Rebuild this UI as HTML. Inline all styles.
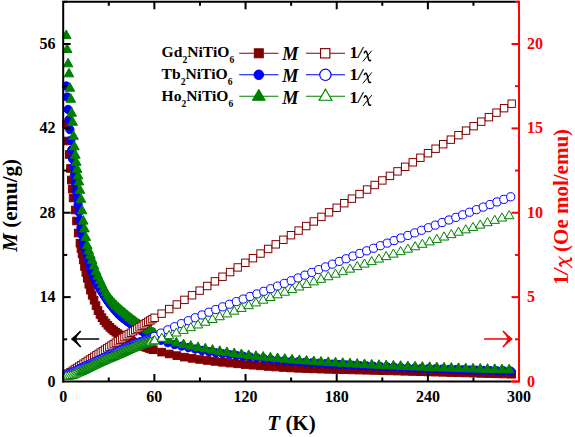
<!DOCTYPE html>
<html><head><meta charset="utf-8"><style>
html,body{margin:0;padding:0;background:#fff;}
body{width:575px;height:437px;overflow:hidden;font-family:"Liberation Serif",serif;}
svg{display:block;}
</style></head><body>
<svg width="575" height="437" viewBox="0 0 575 437">
<rect width="575" height="437" fill="#fff"/>
<defs><clipPath id="pc"><rect x="62.2" y="0.8" width="457.8" height="381.7"/></clipPath></defs>
<g clip-path="url(#pc)"><rect x="62.44" y="120.2" width="7.6" height="7.6" fill="#800000" stroke="#800000" stroke-width="1"/><rect x="63.7" y="137.2" width="7.6" height="7.6" fill="#800000" stroke="#800000" stroke-width="1"/><rect x="65.5" y="150.7" width="7.6" height="7.6" fill="#800000" stroke="#800000" stroke-width="1"/><rect x="66.7" y="164.7" width="7.6" height="7.6" fill="#800000" stroke="#800000" stroke-width="1"/><rect x="67.5" y="176.2" width="7.6" height="7.6" fill="#800000" stroke="#800000" stroke-width="1"/><rect x="68.4" y="185.2" width="7.6" height="7.6" fill="#800000" stroke="#800000" stroke-width="1"/><rect x="69.3" y="194.2" width="7.6" height="7.6" fill="#800000" stroke="#800000" stroke-width="1"/><rect x="71.4" y="206.2" width="7.6" height="7.6" fill="#800000" stroke="#800000" stroke-width="1"/><rect x="72.7" y="217.2" width="7.6" height="7.6" fill="#800000" stroke="#800000" stroke-width="1"/><rect x="74.4" y="229.2" width="7.6" height="7.6" fill="#800000" stroke="#800000" stroke-width="1"/><rect x="76.16" y="239.36" width="7.6" height="7.6" fill="#800000" stroke="#800000" stroke-width="1"/><rect x="77.18" y="244.68" width="7.6" height="7.6" fill="#800000" stroke="#800000" stroke-width="1"/><rect x="78.27" y="250.04" width="7.6" height="7.6" fill="#800000" stroke="#800000" stroke-width="1"/><rect x="79.44" y="256.13" width="7.6" height="7.6" fill="#800000" stroke="#800000" stroke-width="1"/><rect x="80.69" y="262.68" width="7.6" height="7.6" fill="#800000" stroke="#800000" stroke-width="1"/><rect x="82.03" y="268.64" width="7.6" height="7.6" fill="#800000" stroke="#800000" stroke-width="1"/><rect x="83.46" y="274.45" width="7.6" height="7.6" fill="#800000" stroke="#800000" stroke-width="1"/><rect x="84.99" y="280.46" width="7.6" height="7.6" fill="#800000" stroke="#800000" stroke-width="1"/><rect x="86.63" y="286.34" width="7.6" height="7.6" fill="#800000" stroke="#800000" stroke-width="1"/><rect x="88.39" y="291.49" width="7.6" height="7.6" fill="#800000" stroke="#800000" stroke-width="1"/><rect x="90.26" y="296.38" width="7.6" height="7.6" fill="#800000" stroke="#800000" stroke-width="1"/><rect x="92.24" y="301.79" width="7.6" height="7.6" fill="#800000" stroke="#800000" stroke-width="1"/><rect x="94.21" y="306.79" width="7.6" height="7.6" fill="#800000" stroke="#800000" stroke-width="1"/><rect x="96.19" y="310.64" width="7.6" height="7.6" fill="#800000" stroke="#800000" stroke-width="1"/><rect x="98.17" y="313.9" width="7.6" height="7.6" fill="#800000" stroke="#800000" stroke-width="1"/><rect x="100.14" y="316.73" width="7.6" height="7.6" fill="#800000" stroke="#800000" stroke-width="1"/><rect x="102.12" y="319.24" width="7.6" height="7.6" fill="#800000" stroke="#800000" stroke-width="1"/><rect x="104.09" y="321.49" width="7.6" height="7.6" fill="#800000" stroke="#800000" stroke-width="1"/><rect x="106.07" y="323.51" width="7.6" height="7.6" fill="#800000" stroke="#800000" stroke-width="1"/><rect x="108.04" y="325.31" width="7.6" height="7.6" fill="#800000" stroke="#800000" stroke-width="1"/><rect x="110.02" y="326.94" width="7.6" height="7.6" fill="#800000" stroke="#800000" stroke-width="1"/><rect x="111.99" y="328.42" width="7.6" height="7.6" fill="#800000" stroke="#800000" stroke-width="1"/><rect x="113.97" y="329.78" width="7.6" height="7.6" fill="#800000" stroke="#800000" stroke-width="1"/><rect x="115.94" y="331.04" width="7.6" height="7.6" fill="#800000" stroke="#800000" stroke-width="1"/><rect x="117.92" y="332.2" width="7.6" height="7.6" fill="#800000" stroke="#800000" stroke-width="1"/><rect x="119.89" y="333.3" width="7.6" height="7.6" fill="#800000" stroke="#800000" stroke-width="1"/><rect x="121.87" y="334.36" width="7.6" height="7.6" fill="#800000" stroke="#800000" stroke-width="1"/><rect x="123.85" y="335.4" width="7.6" height="7.6" fill="#800000" stroke="#800000" stroke-width="1"/><rect x="125.82" y="336.41" width="7.6" height="7.6" fill="#800000" stroke="#800000" stroke-width="1"/><rect x="127.8" y="337.4" width="7.6" height="7.6" fill="#800000" stroke="#800000" stroke-width="1"/><rect x="129.77" y="338.36" width="7.6" height="7.6" fill="#800000" stroke="#800000" stroke-width="1"/><rect x="131.75" y="339.28" width="7.6" height="7.6" fill="#800000" stroke="#800000" stroke-width="1"/><rect x="133.72" y="340.16" width="7.6" height="7.6" fill="#800000" stroke="#800000" stroke-width="1"/><rect x="135.7" y="341" width="7.6" height="7.6" fill="#800000" stroke="#800000" stroke-width="1"/><rect x="137.67" y="341.78" width="7.6" height="7.6" fill="#800000" stroke="#800000" stroke-width="1"/><rect x="139.65" y="342.54" width="7.6" height="7.6" fill="#800000" stroke="#800000" stroke-width="1"/><rect x="141.62" y="343.28" width="7.6" height="7.6" fill="#800000" stroke="#800000" stroke-width="1"/><rect x="143.6" y="343.98" width="7.6" height="7.6" fill="#800000" stroke="#800000" stroke-width="1"/><rect x="145.57" y="344.67" width="7.6" height="7.6" fill="#800000" stroke="#800000" stroke-width="1"/><rect x="147.55" y="345.32" width="7.6" height="7.6" fill="#800000" stroke="#800000" stroke-width="1"/><rect x="149.52" y="345.95" width="7.6" height="7.6" fill="#800000" stroke="#800000" stroke-width="1"/><rect x="157.8" y="348.32" width="7.6" height="7.6" fill="#800000" stroke="#800000" stroke-width="1"/><rect x="165.41" y="350.16" width="7.6" height="7.6" fill="#800000" stroke="#800000" stroke-width="1"/><rect x="173.02" y="351.82" width="7.6" height="7.6" fill="#800000" stroke="#800000" stroke-width="1"/><rect x="180.63" y="353.33" width="7.6" height="7.6" fill="#800000" stroke="#800000" stroke-width="1"/><rect x="188.24" y="354.56" width="7.6" height="7.6" fill="#800000" stroke="#800000" stroke-width="1"/><rect x="195.85" y="355.66" width="7.6" height="7.6" fill="#800000" stroke="#800000" stroke-width="1"/><rect x="203.47" y="356.67" width="7.6" height="7.6" fill="#800000" stroke="#800000" stroke-width="1"/><rect x="211.08" y="357.62" width="7.6" height="7.6" fill="#800000" stroke="#800000" stroke-width="1"/><rect x="218.69" y="358.5" width="7.6" height="7.6" fill="#800000" stroke="#800000" stroke-width="1"/><rect x="226.3" y="359.31" width="7.6" height="7.6" fill="#800000" stroke="#800000" stroke-width="1"/><rect x="233.91" y="360.06" width="7.6" height="7.6" fill="#800000" stroke="#800000" stroke-width="1"/><rect x="241.52" y="360.77" width="7.6" height="7.6" fill="#800000" stroke="#800000" stroke-width="1"/><rect x="249.13" y="361.42" width="7.6" height="7.6" fill="#800000" stroke="#800000" stroke-width="1"/><rect x="256.74" y="362.06" width="7.6" height="7.6" fill="#800000" stroke="#800000" stroke-width="1"/><rect x="264.35" y="362.66" width="7.6" height="7.6" fill="#800000" stroke="#800000" stroke-width="1"/><rect x="271.96" y="363.22" width="7.6" height="7.6" fill="#800000" stroke="#800000" stroke-width="1"/><rect x="279.57" y="363.73" width="7.6" height="7.6" fill="#800000" stroke="#800000" stroke-width="1"/><rect x="287.18" y="364.17" width="7.6" height="7.6" fill="#800000" stroke="#800000" stroke-width="1"/><rect x="294.8" y="364.54" width="7.6" height="7.6" fill="#800000" stroke="#800000" stroke-width="1"/><rect x="302.41" y="364.84" width="7.6" height="7.6" fill="#800000" stroke="#800000" stroke-width="1"/><rect x="310.02" y="365.1" width="7.6" height="7.6" fill="#800000" stroke="#800000" stroke-width="1"/><rect x="317.63" y="365.34" width="7.6" height="7.6" fill="#800000" stroke="#800000" stroke-width="1"/><rect x="325.24" y="365.55" width="7.6" height="7.6" fill="#800000" stroke="#800000" stroke-width="1"/><rect x="332.85" y="365.75" width="7.6" height="7.6" fill="#800000" stroke="#800000" stroke-width="1"/><rect x="340.46" y="365.93" width="7.6" height="7.6" fill="#800000" stroke="#800000" stroke-width="1"/><rect x="348.07" y="366.11" width="7.6" height="7.6" fill="#800000" stroke="#800000" stroke-width="1"/><rect x="355.68" y="366.29" width="7.6" height="7.6" fill="#800000" stroke="#800000" stroke-width="1"/><rect x="363.29" y="366.47" width="7.6" height="7.6" fill="#800000" stroke="#800000" stroke-width="1"/><rect x="370.9" y="366.66" width="7.6" height="7.6" fill="#800000" stroke="#800000" stroke-width="1"/><rect x="378.52" y="366.86" width="7.6" height="7.6" fill="#800000" stroke="#800000" stroke-width="1"/><rect x="386.13" y="367.07" width="7.6" height="7.6" fill="#800000" stroke="#800000" stroke-width="1"/><rect x="393.74" y="367.28" width="7.6" height="7.6" fill="#800000" stroke="#800000" stroke-width="1"/><rect x="401.35" y="367.49" width="7.6" height="7.6" fill="#800000" stroke="#800000" stroke-width="1"/><rect x="408.96" y="367.7" width="7.6" height="7.6" fill="#800000" stroke="#800000" stroke-width="1"/><rect x="416.57" y="367.91" width="7.6" height="7.6" fill="#800000" stroke="#800000" stroke-width="1"/><rect x="424.18" y="368.12" width="7.6" height="7.6" fill="#800000" stroke="#800000" stroke-width="1"/><rect x="431.79" y="368.33" width="7.6" height="7.6" fill="#800000" stroke="#800000" stroke-width="1"/><rect x="439.4" y="368.54" width="7.6" height="7.6" fill="#800000" stroke="#800000" stroke-width="1"/><rect x="447.01" y="368.75" width="7.6" height="7.6" fill="#800000" stroke="#800000" stroke-width="1"/><rect x="454.62" y="368.96" width="7.6" height="7.6" fill="#800000" stroke="#800000" stroke-width="1"/><rect x="462.23" y="369.16" width="7.6" height="7.6" fill="#800000" stroke="#800000" stroke-width="1"/><rect x="469.85" y="369.37" width="7.6" height="7.6" fill="#800000" stroke="#800000" stroke-width="1"/><rect x="477.46" y="369.58" width="7.6" height="7.6" fill="#800000" stroke="#800000" stroke-width="1"/><rect x="485.07" y="369.79" width="7.6" height="7.6" fill="#800000" stroke="#800000" stroke-width="1"/><rect x="492.68" y="370" width="7.6" height="7.6" fill="#800000" stroke="#800000" stroke-width="1"/><rect x="500.29" y="370.21" width="7.6" height="7.6" fill="#800000" stroke="#800000" stroke-width="1"/><rect x="507.9" y="370.42" width="7.6" height="7.6" fill="#800000" stroke="#800000" stroke-width="1"/><circle cx="66.24" cy="85.99" r="4.15" fill="#0000ff" stroke="#0000ff" stroke-width="1"/><circle cx="67.15" cy="97.01" r="4.15" fill="#0000ff" stroke="#0000ff" stroke-width="1"/><circle cx="68.06" cy="109.43" r="4.15" fill="#0000ff" stroke="#0000ff" stroke-width="1"/><circle cx="68.97" cy="119.55" r="4.15" fill="#0000ff" stroke="#0000ff" stroke-width="1"/><circle cx="69.89" cy="129.65" r="4.15" fill="#0000ff" stroke="#0000ff" stroke-width="1"/><circle cx="70.8" cy="140.37" r="4.15" fill="#0000ff" stroke="#0000ff" stroke-width="1"/><circle cx="71.71" cy="149.99" r="4.15" fill="#0000ff" stroke="#0000ff" stroke-width="1"/><circle cx="72.62" cy="159.01" r="4.15" fill="#0000ff" stroke="#0000ff" stroke-width="1"/><circle cx="73.53" cy="167.02" r="4.15" fill="#0000ff" stroke="#0000ff" stroke-width="1"/><circle cx="74.44" cy="175.04" r="4.15" fill="#0000ff" stroke="#0000ff" stroke-width="1"/><circle cx="75.36" cy="182.97" r="4.15" fill="#0000ff" stroke="#0000ff" stroke-width="1"/><circle cx="76.27" cy="190.98" r="4.15" fill="#0000ff" stroke="#0000ff" stroke-width="1"/><circle cx="77.18" cy="197.64" r="4.15" fill="#0000ff" stroke="#0000ff" stroke-width="1"/><circle cx="78.09" cy="204.64" r="4.15" fill="#0000ff" stroke="#0000ff" stroke-width="1"/><circle cx="79" cy="212.02" r="4.15" fill="#0000ff" stroke="#0000ff" stroke-width="1"/><circle cx="79.96" cy="219.8" r="4.15" fill="#0000ff" stroke="#0000ff" stroke-width="1"/><circle cx="80.98" cy="227.67" r="4.15" fill="#0000ff" stroke="#0000ff" stroke-width="1"/><circle cx="82.07" cy="234.94" r="4.15" fill="#0000ff" stroke="#0000ff" stroke-width="1"/><circle cx="83.24" cy="241.18" r="4.15" fill="#0000ff" stroke="#0000ff" stroke-width="1"/><circle cx="84.49" cy="246.05" r="4.15" fill="#0000ff" stroke="#0000ff" stroke-width="1"/><circle cx="85.83" cy="250.43" r="4.15" fill="#0000ff" stroke="#0000ff" stroke-width="1"/><circle cx="87.26" cy="255.29" r="4.15" fill="#0000ff" stroke="#0000ff" stroke-width="1"/><circle cx="88.79" cy="261.01" r="4.15" fill="#0000ff" stroke="#0000ff" stroke-width="1"/><circle cx="90.43" cy="266.93" r="4.15" fill="#0000ff" stroke="#0000ff" stroke-width="1"/><circle cx="92.19" cy="272.26" r="4.15" fill="#0000ff" stroke="#0000ff" stroke-width="1"/><circle cx="94.06" cy="277.28" r="4.15" fill="#0000ff" stroke="#0000ff" stroke-width="1"/><circle cx="96.04" cy="281.92" r="4.15" fill="#0000ff" stroke="#0000ff" stroke-width="1"/><circle cx="98.01" cy="285.8" r="4.15" fill="#0000ff" stroke="#0000ff" stroke-width="1"/><circle cx="99.99" cy="288.93" r="4.15" fill="#0000ff" stroke="#0000ff" stroke-width="1"/><circle cx="101.97" cy="292.07" r="4.15" fill="#0000ff" stroke="#0000ff" stroke-width="1"/><circle cx="103.94" cy="295.33" r="4.15" fill="#0000ff" stroke="#0000ff" stroke-width="1"/><circle cx="105.92" cy="298.44" r="4.15" fill="#0000ff" stroke="#0000ff" stroke-width="1"/><circle cx="107.89" cy="301.27" r="4.15" fill="#0000ff" stroke="#0000ff" stroke-width="1"/><circle cx="109.87" cy="303.93" r="4.15" fill="#0000ff" stroke="#0000ff" stroke-width="1"/><circle cx="111.84" cy="306.43" r="4.15" fill="#0000ff" stroke="#0000ff" stroke-width="1"/><circle cx="113.82" cy="308.81" r="4.15" fill="#0000ff" stroke="#0000ff" stroke-width="1"/><circle cx="115.79" cy="311.11" r="4.15" fill="#0000ff" stroke="#0000ff" stroke-width="1"/><circle cx="117.77" cy="313.28" r="4.15" fill="#0000ff" stroke="#0000ff" stroke-width="1"/><circle cx="119.74" cy="315.27" r="4.15" fill="#0000ff" stroke="#0000ff" stroke-width="1"/><circle cx="121.72" cy="317.04" r="4.15" fill="#0000ff" stroke="#0000ff" stroke-width="1"/><circle cx="123.69" cy="318.64" r="4.15" fill="#0000ff" stroke="#0000ff" stroke-width="1"/><circle cx="125.67" cy="320.14" r="4.15" fill="#0000ff" stroke="#0000ff" stroke-width="1"/><circle cx="127.65" cy="321.6" r="4.15" fill="#0000ff" stroke="#0000ff" stroke-width="1"/><circle cx="129.62" cy="323.06" r="4.15" fill="#0000ff" stroke="#0000ff" stroke-width="1"/><circle cx="131.6" cy="324.48" r="4.15" fill="#0000ff" stroke="#0000ff" stroke-width="1"/><circle cx="133.57" cy="325.87" r="4.15" fill="#0000ff" stroke="#0000ff" stroke-width="1"/><circle cx="135.55" cy="327.22" r="4.15" fill="#0000ff" stroke="#0000ff" stroke-width="1"/><circle cx="137.52" cy="328.5" r="4.15" fill="#0000ff" stroke="#0000ff" stroke-width="1"/><circle cx="139.5" cy="329.71" r="4.15" fill="#0000ff" stroke="#0000ff" stroke-width="1"/><circle cx="141.47" cy="330.85" r="4.15" fill="#0000ff" stroke="#0000ff" stroke-width="1"/><circle cx="143.45" cy="331.96" r="4.15" fill="#0000ff" stroke="#0000ff" stroke-width="1"/><circle cx="145.42" cy="333.05" r="4.15" fill="#0000ff" stroke="#0000ff" stroke-width="1"/><circle cx="147.4" cy="334.1" r="4.15" fill="#0000ff" stroke="#0000ff" stroke-width="1"/><circle cx="149.37" cy="335.12" r="4.15" fill="#0000ff" stroke="#0000ff" stroke-width="1"/><circle cx="151.35" cy="336.1" r="4.15" fill="#0000ff" stroke="#0000ff" stroke-width="1"/><circle cx="153.32" cy="337.04" r="4.15" fill="#0000ff" stroke="#0000ff" stroke-width="1"/><circle cx="160.9" cy="340.27" r="4.15" fill="#0000ff" stroke="#0000ff" stroke-width="1"/><circle cx="167.76" cy="342.66" r="4.15" fill="#0000ff" stroke="#0000ff" stroke-width="1"/><circle cx="174.62" cy="344.58" r="4.15" fill="#0000ff" stroke="#0000ff" stroke-width="1"/><circle cx="181.48" cy="346.13" r="4.15" fill="#0000ff" stroke="#0000ff" stroke-width="1"/><circle cx="188.34" cy="347.57" r="4.15" fill="#0000ff" stroke="#0000ff" stroke-width="1"/><circle cx="195.19" cy="349.04" r="4.15" fill="#0000ff" stroke="#0000ff" stroke-width="1"/><circle cx="202.05" cy="350.46" r="4.15" fill="#0000ff" stroke="#0000ff" stroke-width="1"/><circle cx="208.91" cy="351.74" r="4.15" fill="#0000ff" stroke="#0000ff" stroke-width="1"/><circle cx="215.77" cy="352.82" r="4.15" fill="#0000ff" stroke="#0000ff" stroke-width="1"/><circle cx="222.63" cy="353.78" r="4.15" fill="#0000ff" stroke="#0000ff" stroke-width="1"/><circle cx="229.49" cy="354.66" r="4.15" fill="#0000ff" stroke="#0000ff" stroke-width="1"/><circle cx="236.35" cy="355.49" r="4.15" fill="#0000ff" stroke="#0000ff" stroke-width="1"/><circle cx="243.21" cy="356.27" r="4.15" fill="#0000ff" stroke="#0000ff" stroke-width="1"/><circle cx="250.06" cy="357.04" r="4.15" fill="#0000ff" stroke="#0000ff" stroke-width="1"/><circle cx="256.92" cy="357.81" r="4.15" fill="#0000ff" stroke="#0000ff" stroke-width="1"/><circle cx="263.78" cy="358.57" r="4.15" fill="#0000ff" stroke="#0000ff" stroke-width="1"/><circle cx="270.64" cy="359.3" r="4.15" fill="#0000ff" stroke="#0000ff" stroke-width="1"/><circle cx="277.5" cy="360.01" r="4.15" fill="#0000ff" stroke="#0000ff" stroke-width="1"/><circle cx="284.36" cy="360.68" r="4.15" fill="#0000ff" stroke="#0000ff" stroke-width="1"/><circle cx="291.22" cy="361.29" r="4.15" fill="#0000ff" stroke="#0000ff" stroke-width="1"/><circle cx="298.08" cy="361.85" r="4.15" fill="#0000ff" stroke="#0000ff" stroke-width="1"/><circle cx="304.94" cy="362.36" r="4.15" fill="#0000ff" stroke="#0000ff" stroke-width="1"/><circle cx="311.79" cy="362.84" r="4.15" fill="#0000ff" stroke="#0000ff" stroke-width="1"/><circle cx="318.65" cy="363.3" r="4.15" fill="#0000ff" stroke="#0000ff" stroke-width="1"/><circle cx="325.51" cy="363.74" r="4.15" fill="#0000ff" stroke="#0000ff" stroke-width="1"/><circle cx="332.37" cy="364.16" r="4.15" fill="#0000ff" stroke="#0000ff" stroke-width="1"/><circle cx="339.23" cy="364.56" r="4.15" fill="#0000ff" stroke="#0000ff" stroke-width="1"/><circle cx="346.09" cy="364.94" r="4.15" fill="#0000ff" stroke="#0000ff" stroke-width="1"/><circle cx="352.95" cy="365.31" r="4.15" fill="#0000ff" stroke="#0000ff" stroke-width="1"/><circle cx="359.81" cy="365.66" r="4.15" fill="#0000ff" stroke="#0000ff" stroke-width="1"/><circle cx="366.66" cy="365.99" r="4.15" fill="#0000ff" stroke="#0000ff" stroke-width="1"/><circle cx="373.52" cy="366.31" r="4.15" fill="#0000ff" stroke="#0000ff" stroke-width="1"/><circle cx="380.38" cy="366.62" r="4.15" fill="#0000ff" stroke="#0000ff" stroke-width="1"/><circle cx="387.24" cy="366.92" r="4.15" fill="#0000ff" stroke="#0000ff" stroke-width="1"/><circle cx="394.1" cy="367.21" r="4.15" fill="#0000ff" stroke="#0000ff" stroke-width="1"/><circle cx="400.96" cy="367.5" r="4.15" fill="#0000ff" stroke="#0000ff" stroke-width="1"/><circle cx="407.82" cy="367.79" r="4.15" fill="#0000ff" stroke="#0000ff" stroke-width="1"/><circle cx="414.68" cy="368.07" r="4.15" fill="#0000ff" stroke="#0000ff" stroke-width="1"/><circle cx="421.54" cy="368.34" r="4.15" fill="#0000ff" stroke="#0000ff" stroke-width="1"/><circle cx="428.39" cy="368.61" r="4.15" fill="#0000ff" stroke="#0000ff" stroke-width="1"/><circle cx="435.25" cy="368.87" r="4.15" fill="#0000ff" stroke="#0000ff" stroke-width="1"/><circle cx="442.11" cy="369.12" r="4.15" fill="#0000ff" stroke="#0000ff" stroke-width="1"/><circle cx="448.97" cy="369.37" r="4.15" fill="#0000ff" stroke="#0000ff" stroke-width="1"/><circle cx="455.83" cy="369.6" r="4.15" fill="#0000ff" stroke="#0000ff" stroke-width="1"/><circle cx="462.69" cy="369.83" r="4.15" fill="#0000ff" stroke="#0000ff" stroke-width="1"/><circle cx="469.55" cy="370.04" r="4.15" fill="#0000ff" stroke="#0000ff" stroke-width="1"/><circle cx="476.41" cy="370.25" r="4.15" fill="#0000ff" stroke="#0000ff" stroke-width="1"/><circle cx="483.26" cy="370.44" r="4.15" fill="#0000ff" stroke="#0000ff" stroke-width="1"/><circle cx="490.12" cy="370.62" r="4.15" fill="#0000ff" stroke="#0000ff" stroke-width="1"/><circle cx="496.98" cy="370.8" r="4.15" fill="#0000ff" stroke="#0000ff" stroke-width="1"/><circle cx="503.84" cy="370.95" r="4.15" fill="#0000ff" stroke="#0000ff" stroke-width="1"/><circle cx="510.7" cy="371.1" r="4.15" fill="#0000ff" stroke="#0000ff" stroke-width="1"/><path d="M66.24 29.98L71.04 38.58L61.44 38.58Z" fill="#008000" stroke="#008000" stroke-width="1"/><path d="M67.15 43.91L71.95 52.51L62.35 52.51Z" fill="#008000" stroke="#008000" stroke-width="1"/><path d="M68.06 58.23L72.86 66.83L63.26 66.83Z" fill="#008000" stroke="#008000" stroke-width="1"/><path d="M68.97 68.25L73.77 76.85L64.17 76.85Z" fill="#008000" stroke="#008000" stroke-width="1"/><path d="M69.89 82.64L74.69 91.24L65.09 91.24Z" fill="#008000" stroke="#008000" stroke-width="1"/><path d="M70.8 93.67L75.6 102.27L66 102.27Z" fill="#008000" stroke="#008000" stroke-width="1"/><path d="M71.71 107.69L76.51 116.29L66.91 116.29Z" fill="#008000" stroke="#008000" stroke-width="1"/><path d="M72.62 116.71L77.42 125.31L67.82 125.31Z" fill="#008000" stroke="#008000" stroke-width="1"/><path d="M73.53 130.73L78.33 139.33L68.73 139.33Z" fill="#008000" stroke="#008000" stroke-width="1"/><path d="M74.44 141.24L79.24 149.84L69.64 149.84Z" fill="#008000" stroke="#008000" stroke-width="1"/><path d="M75.36 149.67L80.16 158.27L70.56 158.27Z" fill="#008000" stroke="#008000" stroke-width="1"/><path d="M76.27 156.68L81.07 165.28L71.47 165.28Z" fill="#008000" stroke="#008000" stroke-width="1"/><path d="M77.18 163.7L81.98 172.3L72.38 172.3Z" fill="#008000" stroke="#008000" stroke-width="1"/><path d="M78.09 170.31L82.89 178.91L73.29 178.91Z" fill="#008000" stroke="#008000" stroke-width="1"/><path d="M79 176.32L83.8 184.92L74.2 184.92Z" fill="#008000" stroke="#008000" stroke-width="1"/><path d="M79.96 184.67L84.76 193.27L75.16 193.27Z" fill="#008000" stroke="#008000" stroke-width="1"/><path d="M80.98 193.68L85.78 202.28L76.18 202.28Z" fill="#008000" stroke="#008000" stroke-width="1"/><path d="M82.07 205.21L86.87 213.81L77.27 213.81Z" fill="#008000" stroke="#008000" stroke-width="1"/><path d="M83.24 215.52L88.04 224.12L78.44 224.12Z" fill="#008000" stroke="#008000" stroke-width="1"/><path d="M84.49 223.31L89.29 231.91L79.69 231.91Z" fill="#008000" stroke="#008000" stroke-width="1"/><path d="M85.83 231.85L90.63 240.45L81.03 240.45Z" fill="#008000" stroke="#008000" stroke-width="1"/><path d="M87.26 239.97L92.06 248.57L82.46 248.57Z" fill="#008000" stroke="#008000" stroke-width="1"/><path d="M88.79 245.25L93.59 253.85L83.99 253.85Z" fill="#008000" stroke="#008000" stroke-width="1"/><path d="M90.43 249.73L95.23 258.33L85.63 258.33Z" fill="#008000" stroke="#008000" stroke-width="1"/><path d="M92.19 254.75L96.99 263.35L87.39 263.35Z" fill="#008000" stroke="#008000" stroke-width="1"/><path d="M94.06 260.36L98.86 268.96L89.26 268.96Z" fill="#008000" stroke="#008000" stroke-width="1"/><path d="M96.04 265.8L100.84 274.4L91.24 274.4Z" fill="#008000" stroke="#008000" stroke-width="1"/><path d="M98.01 270.56L102.81 279.16L93.21 279.16Z" fill="#008000" stroke="#008000" stroke-width="1"/><path d="M99.99 274.93L104.79 283.53L95.19 283.53Z" fill="#008000" stroke="#008000" stroke-width="1"/><path d="M101.97 279.1L106.77 287.7L97.17 287.7Z" fill="#008000" stroke="#008000" stroke-width="1"/><path d="M103.94 283.23L108.74 291.83L99.14 291.83Z" fill="#008000" stroke="#008000" stroke-width="1"/><path d="M105.92 287.11L110.72 295.71L101.12 295.71Z" fill="#008000" stroke="#008000" stroke-width="1"/><path d="M107.89 290.44L112.69 299.04L103.09 299.04Z" fill="#008000" stroke="#008000" stroke-width="1"/><path d="M109.87 293.17L114.67 301.77L105.07 301.77Z" fill="#008000" stroke="#008000" stroke-width="1"/><path d="M111.84 295.56L116.64 304.16L107.04 304.16Z" fill="#008000" stroke="#008000" stroke-width="1"/><path d="M113.82 297.77L118.62 306.37L109.02 306.37Z" fill="#008000" stroke="#008000" stroke-width="1"/><path d="M115.79 299.83L120.59 308.43L110.99 308.43Z" fill="#008000" stroke="#008000" stroke-width="1"/><path d="M117.77 301.75L122.57 310.35L112.97 310.35Z" fill="#008000" stroke="#008000" stroke-width="1"/><path d="M119.74 303.58L124.54 312.18L114.94 312.18Z" fill="#008000" stroke="#008000" stroke-width="1"/><path d="M121.72 305.36L126.52 313.96L116.92 313.96Z" fill="#008000" stroke="#008000" stroke-width="1"/><path d="M123.69 307.05L128.49 315.65L118.89 315.65Z" fill="#008000" stroke="#008000" stroke-width="1"/><path d="M125.67 308.69L130.47 317.29L120.87 317.29Z" fill="#008000" stroke="#008000" stroke-width="1"/><path d="M127.65 310.29L132.45 318.89L122.85 318.89Z" fill="#008000" stroke="#008000" stroke-width="1"/><path d="M129.62 311.88L134.42 320.48L124.82 320.48Z" fill="#008000" stroke="#008000" stroke-width="1"/><path d="M131.6 313.46L136.4 322.06L126.8 322.06Z" fill="#008000" stroke="#008000" stroke-width="1"/><path d="M133.57 314.99L138.37 323.59L128.77 323.59Z" fill="#008000" stroke="#008000" stroke-width="1"/><path d="M135.55 316.47L140.35 325.07L130.75 325.07Z" fill="#008000" stroke="#008000" stroke-width="1"/><path d="M137.52 317.88L142.32 326.48L132.72 326.48Z" fill="#008000" stroke="#008000" stroke-width="1"/><path d="M139.5 319.23L144.3 327.83L134.7 327.83Z" fill="#008000" stroke="#008000" stroke-width="1"/><path d="M141.47 320.53L146.27 329.13L136.67 329.13Z" fill="#008000" stroke="#008000" stroke-width="1"/><path d="M143.45 321.76L148.25 330.36L138.65 330.36Z" fill="#008000" stroke="#008000" stroke-width="1"/><path d="M145.42 322.89L150.22 331.49L140.62 331.49Z" fill="#008000" stroke="#008000" stroke-width="1"/><path d="M147.4 324L152.2 332.6L142.6 332.6Z" fill="#008000" stroke="#008000" stroke-width="1"/><path d="M149.37 325.1L154.17 333.7L144.57 333.7Z" fill="#008000" stroke="#008000" stroke-width="1"/><path d="M151.35 326.19L156.15 334.79L146.55 334.79Z" fill="#008000" stroke="#008000" stroke-width="1"/><path d="M153.32 327.26L158.12 335.86L148.52 335.86Z" fill="#008000" stroke="#008000" stroke-width="1"/><path d="M154.6 327.95L159.4 336.55L149.8 336.55Z" fill="#008000" stroke="#008000" stroke-width="1"/><path d="M161.84 331.63L166.64 340.23L157.04 340.23Z" fill="#008000" stroke="#008000" stroke-width="1"/><path d="M169.07 334.82L173.87 343.42L164.27 343.42Z" fill="#008000" stroke="#008000" stroke-width="1"/><path d="M176.31 337.3L181.11 345.9L171.51 345.9Z" fill="#008000" stroke="#008000" stroke-width="1"/><path d="M183.55 339.11L188.35 347.71L178.75 347.71Z" fill="#008000" stroke="#008000" stroke-width="1"/><path d="M190.78 340.56L195.58 349.16L185.98 349.16Z" fill="#008000" stroke="#008000" stroke-width="1"/><path d="M198.02 341.91L202.82 350.51L193.22 350.51Z" fill="#008000" stroke="#008000" stroke-width="1"/><path d="M205.26 343.28L210.06 351.88L200.46 351.88Z" fill="#008000" stroke="#008000" stroke-width="1"/><path d="M212.49 344.57L217.29 353.17L207.69 353.17Z" fill="#008000" stroke="#008000" stroke-width="1"/><path d="M219.73 345.79L224.53 354.39L214.93 354.39Z" fill="#008000" stroke="#008000" stroke-width="1"/><path d="M226.97 346.94L231.77 355.54L222.17 355.54Z" fill="#008000" stroke="#008000" stroke-width="1"/><path d="M234.2 348.03L239 356.63L229.4 356.63Z" fill="#008000" stroke="#008000" stroke-width="1"/><path d="M241.44 349.02L246.24 357.62L236.64 357.62Z" fill="#008000" stroke="#008000" stroke-width="1"/><path d="M248.68 349.91L253.48 358.51L243.88 358.51Z" fill="#008000" stroke="#008000" stroke-width="1"/><path d="M255.91 350.74L260.71 359.34L251.11 359.34Z" fill="#008000" stroke="#008000" stroke-width="1"/><path d="M263.15 351.51L267.95 360.11L258.35 360.11Z" fill="#008000" stroke="#008000" stroke-width="1"/><path d="M270.39 352.25L275.19 360.85L265.59 360.85Z" fill="#008000" stroke="#008000" stroke-width="1"/><path d="M277.62 352.95L282.42 361.55L272.82 361.55Z" fill="#008000" stroke="#008000" stroke-width="1"/><path d="M284.86 353.64L289.66 362.24L280.06 362.24Z" fill="#008000" stroke="#008000" stroke-width="1"/><path d="M292.1 354.29L296.9 362.89L287.3 362.89Z" fill="#008000" stroke="#008000" stroke-width="1"/><path d="M299.33 354.9L304.13 363.5L294.53 363.5Z" fill="#008000" stroke="#008000" stroke-width="1"/><path d="M306.57 355.45L311.37 364.05L301.77 364.05Z" fill="#008000" stroke="#008000" stroke-width="1"/><path d="M313.81 355.96L318.61 364.56L309.01 364.56Z" fill="#008000" stroke="#008000" stroke-width="1"/><path d="M321.04 356.41L325.84 365.01L316.24 365.01Z" fill="#008000" stroke="#008000" stroke-width="1"/><path d="M328.28 356.85L333.08 365.45L323.48 365.45Z" fill="#008000" stroke="#008000" stroke-width="1"/><path d="M335.52 357.26L340.32 365.86L330.72 365.86Z" fill="#008000" stroke="#008000" stroke-width="1"/><path d="M342.76 357.68L347.56 366.28L337.96 366.28Z" fill="#008000" stroke="#008000" stroke-width="1"/><path d="M349.99 358.11L354.79 366.71L345.19 366.71Z" fill="#008000" stroke="#008000" stroke-width="1"/><path d="M357.23 358.53L362.03 367.13L352.43 367.13Z" fill="#008000" stroke="#008000" stroke-width="1"/><path d="M364.47 358.94L369.27 367.54L359.67 367.54Z" fill="#008000" stroke="#008000" stroke-width="1"/><path d="M371.7 359.34L376.5 367.94L366.9 367.94Z" fill="#008000" stroke="#008000" stroke-width="1"/><path d="M378.94 359.7L383.74 368.3L374.14 368.3Z" fill="#008000" stroke="#008000" stroke-width="1"/><path d="M386.18 360.04L390.98 368.64L381.38 368.64Z" fill="#008000" stroke="#008000" stroke-width="1"/><path d="M393.41 360.37L398.21 368.97L388.61 368.97Z" fill="#008000" stroke="#008000" stroke-width="1"/><path d="M400.65 360.69L405.45 369.29L395.85 369.29Z" fill="#008000" stroke="#008000" stroke-width="1"/><path d="M407.89 360.99L412.69 369.59L403.09 369.59Z" fill="#008000" stroke="#008000" stroke-width="1"/><path d="M415.12 361.28L419.92 369.88L410.32 369.88Z" fill="#008000" stroke="#008000" stroke-width="1"/><path d="M422.36 361.57L427.16 370.17L417.56 370.17Z" fill="#008000" stroke="#008000" stroke-width="1"/><path d="M429.6 361.83L434.4 370.43L424.8 370.43Z" fill="#008000" stroke="#008000" stroke-width="1"/><path d="M436.83 362.09L441.63 370.69L432.03 370.69Z" fill="#008000" stroke="#008000" stroke-width="1"/><path d="M444.07 362.34L448.87 370.94L439.27 370.94Z" fill="#008000" stroke="#008000" stroke-width="1"/><path d="M451.31 362.58L456.11 371.18L446.51 371.18Z" fill="#008000" stroke="#008000" stroke-width="1"/><path d="M458.54 362.81L463.34 371.41L453.74 371.41Z" fill="#008000" stroke="#008000" stroke-width="1"/><path d="M465.78 363.04L470.58 371.64L460.98 371.64Z" fill="#008000" stroke="#008000" stroke-width="1"/><path d="M473.02 363.25L477.82 371.85L468.22 371.85Z" fill="#008000" stroke="#008000" stroke-width="1"/><path d="M480.25 363.46L485.05 372.06L475.45 372.06Z" fill="#008000" stroke="#008000" stroke-width="1"/><path d="M487.49 363.66L492.29 372.26L482.69 372.26Z" fill="#008000" stroke="#008000" stroke-width="1"/><path d="M494.73 363.85L499.53 372.45L489.93 372.45Z" fill="#008000" stroke="#008000" stroke-width="1"/><path d="M501.96 364.03L506.76 372.63L497.16 372.63Z" fill="#008000" stroke="#008000" stroke-width="1"/><path d="M509.2 364.2L514 372.8L504.4 372.8Z" fill="#008000" stroke="#008000" stroke-width="1"/><rect x="62.54" y="371.23" width="7.4" height="7.4" fill="#fff" stroke="#800000" stroke-width="1.0"/><rect x="64.7" y="369.84" width="7.4" height="7.4" fill="#fff" stroke="#800000" stroke-width="1.0"/><rect x="66.85" y="368.45" width="7.4" height="7.4" fill="#fff" stroke="#800000" stroke-width="1.0"/><rect x="69.01" y="367.06" width="7.4" height="7.4" fill="#fff" stroke="#800000" stroke-width="1.0"/><rect x="71.16" y="365.66" width="7.4" height="7.4" fill="#fff" stroke="#800000" stroke-width="1.0"/><rect x="73.32" y="364.26" width="7.4" height="7.4" fill="#fff" stroke="#800000" stroke-width="1.0"/><rect x="75.47" y="362.86" width="7.4" height="7.4" fill="#fff" stroke="#800000" stroke-width="1.0"/><rect x="77.63" y="361.46" width="7.4" height="7.4" fill="#fff" stroke="#800000" stroke-width="1.0"/><rect x="79.78" y="360.05" width="7.4" height="7.4" fill="#fff" stroke="#800000" stroke-width="1.0"/><rect x="81.94" y="358.64" width="7.4" height="7.4" fill="#fff" stroke="#800000" stroke-width="1.0"/><rect x="84.09" y="357.24" width="7.4" height="7.4" fill="#fff" stroke="#800000" stroke-width="1.0"/><rect x="86.25" y="355.83" width="7.4" height="7.4" fill="#fff" stroke="#800000" stroke-width="1.0"/><rect x="88.4" y="354.43" width="7.4" height="7.4" fill="#fff" stroke="#800000" stroke-width="1.0"/><rect x="90.56" y="353.03" width="7.4" height="7.4" fill="#fff" stroke="#800000" stroke-width="1.0"/><rect x="92.71" y="351.63" width="7.4" height="7.4" fill="#fff" stroke="#800000" stroke-width="1.0"/><rect x="94.87" y="350.23" width="7.4" height="7.4" fill="#fff" stroke="#800000" stroke-width="1.0"/><rect x="97.02" y="348.83" width="7.4" height="7.4" fill="#fff" stroke="#800000" stroke-width="1.0"/><rect x="99.18" y="347.43" width="7.4" height="7.4" fill="#fff" stroke="#800000" stroke-width="1.0"/><rect x="101.33" y="346.03" width="7.4" height="7.4" fill="#fff" stroke="#800000" stroke-width="1.0"/><rect x="103.49" y="344.63" width="7.4" height="7.4" fill="#fff" stroke="#800000" stroke-width="1.0"/><rect x="105.64" y="343.22" width="7.4" height="7.4" fill="#fff" stroke="#800000" stroke-width="1.0"/><rect x="107.8" y="341.81" width="7.4" height="7.4" fill="#fff" stroke="#800000" stroke-width="1.0"/><rect x="109.95" y="340.4" width="7.4" height="7.4" fill="#fff" stroke="#800000" stroke-width="1.0"/><rect x="112.11" y="338.99" width="7.4" height="7.4" fill="#fff" stroke="#800000" stroke-width="1.0"/><rect x="114.26" y="337.57" width="7.4" height="7.4" fill="#fff" stroke="#800000" stroke-width="1.0"/><rect x="116.42" y="336.16" width="7.4" height="7.4" fill="#fff" stroke="#800000" stroke-width="1.0"/><rect x="118.57" y="334.75" width="7.4" height="7.4" fill="#fff" stroke="#800000" stroke-width="1.0"/><rect x="120.73" y="333.34" width="7.4" height="7.4" fill="#fff" stroke="#800000" stroke-width="1.0"/><rect x="122.88" y="331.93" width="7.4" height="7.4" fill="#fff" stroke="#800000" stroke-width="1.0"/><rect x="125.04" y="330.53" width="7.4" height="7.4" fill="#fff" stroke="#800000" stroke-width="1.0"/><rect x="127.19" y="329.12" width="7.4" height="7.4" fill="#fff" stroke="#800000" stroke-width="1.0"/><rect x="129.35" y="327.73" width="7.4" height="7.4" fill="#fff" stroke="#800000" stroke-width="1.0"/><rect x="131.5" y="326.33" width="7.4" height="7.4" fill="#fff" stroke="#800000" stroke-width="1.0"/><rect x="133.66" y="324.95" width="7.4" height="7.4" fill="#fff" stroke="#800000" stroke-width="1.0"/><rect x="135.81" y="323.56" width="7.4" height="7.4" fill="#fff" stroke="#800000" stroke-width="1.0"/><rect x="137.97" y="322.19" width="7.4" height="7.4" fill="#fff" stroke="#800000" stroke-width="1.0"/><rect x="140.12" y="320.82" width="7.4" height="7.4" fill="#fff" stroke="#800000" stroke-width="1.0"/><rect x="142.28" y="319.46" width="7.4" height="7.4" fill="#fff" stroke="#800000" stroke-width="1.0"/><rect x="144.43" y="318.1" width="7.4" height="7.4" fill="#fff" stroke="#800000" stroke-width="1.0"/><rect x="146.59" y="316.76" width="7.4" height="7.4" fill="#fff" stroke="#800000" stroke-width="1.0"/><rect x="148.74" y="315.42" width="7.4" height="7.4" fill="#fff" stroke="#800000" stroke-width="1.0"/><rect x="150.9" y="314.1" width="7.4" height="7.4" fill="#fff" stroke="#800000" stroke-width="1.0"/><rect x="157.9" y="309.94" width="7.4" height="7.4" fill="#fff" stroke="#800000" stroke-width="1.0"/><rect x="165.51" y="305.37" width="7.4" height="7.4" fill="#fff" stroke="#800000" stroke-width="1.0"/><rect x="173.12" y="300.79" width="7.4" height="7.4" fill="#fff" stroke="#800000" stroke-width="1.0"/><rect x="180.73" y="296.18" width="7.4" height="7.4" fill="#fff" stroke="#800000" stroke-width="1.0"/><rect x="188.34" y="291.57" width="7.4" height="7.4" fill="#fff" stroke="#800000" stroke-width="1.0"/><rect x="195.95" y="286.94" width="7.4" height="7.4" fill="#fff" stroke="#800000" stroke-width="1.0"/><rect x="203.57" y="282.3" width="7.4" height="7.4" fill="#fff" stroke="#800000" stroke-width="1.0"/><rect x="211.18" y="277.66" width="7.4" height="7.4" fill="#fff" stroke="#800000" stroke-width="1.0"/><rect x="218.79" y="273.02" width="7.4" height="7.4" fill="#fff" stroke="#800000" stroke-width="1.0"/><rect x="226.4" y="268.37" width="7.4" height="7.4" fill="#fff" stroke="#800000" stroke-width="1.0"/><rect x="234.01" y="263.73" width="7.4" height="7.4" fill="#fff" stroke="#800000" stroke-width="1.0"/><rect x="241.62" y="259.09" width="7.4" height="7.4" fill="#fff" stroke="#800000" stroke-width="1.0"/><rect x="249.23" y="254.46" width="7.4" height="7.4" fill="#fff" stroke="#800000" stroke-width="1.0"/><rect x="256.84" y="249.84" width="7.4" height="7.4" fill="#fff" stroke="#800000" stroke-width="1.0"/><rect x="264.45" y="245.24" width="7.4" height="7.4" fill="#fff" stroke="#800000" stroke-width="1.0"/><rect x="272.06" y="240.64" width="7.4" height="7.4" fill="#fff" stroke="#800000" stroke-width="1.0"/><rect x="279.67" y="236.06" width="7.4" height="7.4" fill="#fff" stroke="#800000" stroke-width="1.0"/><rect x="287.28" y="231.48" width="7.4" height="7.4" fill="#fff" stroke="#800000" stroke-width="1.0"/><rect x="294.9" y="226.91" width="7.4" height="7.4" fill="#fff" stroke="#800000" stroke-width="1.0"/><rect x="302.51" y="222.33" width="7.4" height="7.4" fill="#fff" stroke="#800000" stroke-width="1.0"/><rect x="310.12" y="217.76" width="7.4" height="7.4" fill="#fff" stroke="#800000" stroke-width="1.0"/><rect x="317.73" y="213.19" width="7.4" height="7.4" fill="#fff" stroke="#800000" stroke-width="1.0"/><rect x="325.34" y="208.63" width="7.4" height="7.4" fill="#fff" stroke="#800000" stroke-width="1.0"/><rect x="332.95" y="204.06" width="7.4" height="7.4" fill="#fff" stroke="#800000" stroke-width="1.0"/><rect x="340.56" y="199.5" width="7.4" height="7.4" fill="#fff" stroke="#800000" stroke-width="1.0"/><rect x="348.17" y="194.94" width="7.4" height="7.4" fill="#fff" stroke="#800000" stroke-width="1.0"/><rect x="355.78" y="190.39" width="7.4" height="7.4" fill="#fff" stroke="#800000" stroke-width="1.0"/><rect x="363.39" y="185.84" width="7.4" height="7.4" fill="#fff" stroke="#800000" stroke-width="1.0"/><rect x="371" y="181.29" width="7.4" height="7.4" fill="#fff" stroke="#800000" stroke-width="1.0"/><rect x="378.62" y="176.74" width="7.4" height="7.4" fill="#fff" stroke="#800000" stroke-width="1.0"/><rect x="386.23" y="172.2" width="7.4" height="7.4" fill="#fff" stroke="#800000" stroke-width="1.0"/><rect x="393.84" y="167.66" width="7.4" height="7.4" fill="#fff" stroke="#800000" stroke-width="1.0"/><rect x="401.45" y="163.12" width="7.4" height="7.4" fill="#fff" stroke="#800000" stroke-width="1.0"/><rect x="409.06" y="158.59" width="7.4" height="7.4" fill="#fff" stroke="#800000" stroke-width="1.0"/><rect x="416.67" y="154.06" width="7.4" height="7.4" fill="#fff" stroke="#800000" stroke-width="1.0"/><rect x="424.28" y="149.53" width="7.4" height="7.4" fill="#fff" stroke="#800000" stroke-width="1.0"/><rect x="431.89" y="145.01" width="7.4" height="7.4" fill="#fff" stroke="#800000" stroke-width="1.0"/><rect x="439.5" y="140.49" width="7.4" height="7.4" fill="#fff" stroke="#800000" stroke-width="1.0"/><rect x="447.11" y="135.97" width="7.4" height="7.4" fill="#fff" stroke="#800000" stroke-width="1.0"/><rect x="454.72" y="131.46" width="7.4" height="7.4" fill="#fff" stroke="#800000" stroke-width="1.0"/><rect x="462.33" y="126.95" width="7.4" height="7.4" fill="#fff" stroke="#800000" stroke-width="1.0"/><rect x="469.95" y="122.45" width="7.4" height="7.4" fill="#fff" stroke="#800000" stroke-width="1.0"/><rect x="477.56" y="117.95" width="7.4" height="7.4" fill="#fff" stroke="#800000" stroke-width="1.0"/><rect x="485.17" y="113.45" width="7.4" height="7.4" fill="#fff" stroke="#800000" stroke-width="1.0"/><rect x="492.78" y="108.96" width="7.4" height="7.4" fill="#fff" stroke="#800000" stroke-width="1.0"/><rect x="500.39" y="104.47" width="7.4" height="7.4" fill="#fff" stroke="#800000" stroke-width="1.0"/><rect x="508" y="99.99" width="7.4" height="7.4" fill="#fff" stroke="#800000" stroke-width="1.0"/><circle cx="66.24" cy="374.88" r="4.1" fill="#fff" stroke="#0000ff" stroke-width="1.0"/><circle cx="67.29" cy="374.42" r="4.1" fill="#fff" stroke="#0000ff" stroke-width="1.0"/><circle cx="68.34" cy="373.96" r="4.1" fill="#fff" stroke="#0000ff" stroke-width="1.0"/><circle cx="69.39" cy="373.49" r="4.1" fill="#fff" stroke="#0000ff" stroke-width="1.0"/><circle cx="70.44" cy="373.03" r="4.1" fill="#fff" stroke="#0000ff" stroke-width="1.0"/><circle cx="71.49" cy="372.56" r="4.1" fill="#fff" stroke="#0000ff" stroke-width="1.0"/><circle cx="72.54" cy="372.08" r="4.1" fill="#fff" stroke="#0000ff" stroke-width="1.0"/><circle cx="73.59" cy="371.61" r="4.1" fill="#fff" stroke="#0000ff" stroke-width="1.0"/><circle cx="74.64" cy="371.13" r="4.1" fill="#fff" stroke="#0000ff" stroke-width="1.0"/><circle cx="75.69" cy="370.66" r="4.1" fill="#fff" stroke="#0000ff" stroke-width="1.0"/><circle cx="76.74" cy="370.18" r="4.1" fill="#fff" stroke="#0000ff" stroke-width="1.0"/><circle cx="77.79" cy="369.7" r="4.1" fill="#fff" stroke="#0000ff" stroke-width="1.0"/><circle cx="78.84" cy="369.21" r="4.1" fill="#fff" stroke="#0000ff" stroke-width="1.0"/><circle cx="79.89" cy="368.73" r="4.1" fill="#fff" stroke="#0000ff" stroke-width="1.0"/><circle cx="80.94" cy="368.25" r="4.1" fill="#fff" stroke="#0000ff" stroke-width="1.0"/><circle cx="81.99" cy="367.76" r="4.1" fill="#fff" stroke="#0000ff" stroke-width="1.0"/><circle cx="83.04" cy="367.28" r="4.1" fill="#fff" stroke="#0000ff" stroke-width="1.0"/><circle cx="84.09" cy="366.79" r="4.1" fill="#fff" stroke="#0000ff" stroke-width="1.0"/><circle cx="85.14" cy="366.3" r="4.1" fill="#fff" stroke="#0000ff" stroke-width="1.0"/><circle cx="86.19" cy="365.82" r="4.1" fill="#fff" stroke="#0000ff" stroke-width="1.0"/><circle cx="87.24" cy="365.33" r="4.1" fill="#fff" stroke="#0000ff" stroke-width="1.0"/><circle cx="88.29" cy="364.84" r="4.1" fill="#fff" stroke="#0000ff" stroke-width="1.0"/><circle cx="89.34" cy="364.36" r="4.1" fill="#fff" stroke="#0000ff" stroke-width="1.0"/><circle cx="90.39" cy="363.87" r="4.1" fill="#fff" stroke="#0000ff" stroke-width="1.0"/><circle cx="91.44" cy="363.39" r="4.1" fill="#fff" stroke="#0000ff" stroke-width="1.0"/><circle cx="92.49" cy="362.91" r="4.1" fill="#fff" stroke="#0000ff" stroke-width="1.0"/><circle cx="93.54" cy="362.43" r="4.1" fill="#fff" stroke="#0000ff" stroke-width="1.0"/><circle cx="94.59" cy="361.95" r="4.1" fill="#fff" stroke="#0000ff" stroke-width="1.0"/><circle cx="95.64" cy="361.47" r="4.1" fill="#fff" stroke="#0000ff" stroke-width="1.0"/><circle cx="96.69" cy="360.99" r="4.1" fill="#fff" stroke="#0000ff" stroke-width="1.0"/><circle cx="97.74" cy="360.52" r="4.1" fill="#fff" stroke="#0000ff" stroke-width="1.0"/><circle cx="98.79" cy="360.04" r="4.1" fill="#fff" stroke="#0000ff" stroke-width="1.0"/><circle cx="99.84" cy="359.57" r="4.1" fill="#fff" stroke="#0000ff" stroke-width="1.0"/><circle cx="100.89" cy="359.1" r="4.1" fill="#fff" stroke="#0000ff" stroke-width="1.0"/><circle cx="101.94" cy="358.63" r="4.1" fill="#fff" stroke="#0000ff" stroke-width="1.0"/><circle cx="102.99" cy="358.16" r="4.1" fill="#fff" stroke="#0000ff" stroke-width="1.0"/><circle cx="104.04" cy="357.69" r="4.1" fill="#fff" stroke="#0000ff" stroke-width="1.0"/><circle cx="105.09" cy="357.22" r="4.1" fill="#fff" stroke="#0000ff" stroke-width="1.0"/><circle cx="106.14" cy="356.74" r="4.1" fill="#fff" stroke="#0000ff" stroke-width="1.0"/><circle cx="107.19" cy="356.27" r="4.1" fill="#fff" stroke="#0000ff" stroke-width="1.0"/><circle cx="108.24" cy="355.8" r="4.1" fill="#fff" stroke="#0000ff" stroke-width="1.0"/><circle cx="109.29" cy="355.33" r="4.1" fill="#fff" stroke="#0000ff" stroke-width="1.0"/><circle cx="110.34" cy="354.85" r="4.1" fill="#fff" stroke="#0000ff" stroke-width="1.0"/><circle cx="111.39" cy="354.38" r="4.1" fill="#fff" stroke="#0000ff" stroke-width="1.0"/><circle cx="112.44" cy="353.91" r="4.1" fill="#fff" stroke="#0000ff" stroke-width="1.0"/><circle cx="113.49" cy="353.44" r="4.1" fill="#fff" stroke="#0000ff" stroke-width="1.0"/><circle cx="114.54" cy="352.97" r="4.1" fill="#fff" stroke="#0000ff" stroke-width="1.0"/><circle cx="115.59" cy="352.5" r="4.1" fill="#fff" stroke="#0000ff" stroke-width="1.0"/><circle cx="116.64" cy="352.03" r="4.1" fill="#fff" stroke="#0000ff" stroke-width="1.0"/><circle cx="117.69" cy="351.56" r="4.1" fill="#fff" stroke="#0000ff" stroke-width="1.0"/><circle cx="118.74" cy="351.09" r="4.1" fill="#fff" stroke="#0000ff" stroke-width="1.0"/><circle cx="119.79" cy="350.63" r="4.1" fill="#fff" stroke="#0000ff" stroke-width="1.0"/><circle cx="120.84" cy="350.16" r="4.1" fill="#fff" stroke="#0000ff" stroke-width="1.0"/><circle cx="121.89" cy="349.7" r="4.1" fill="#fff" stroke="#0000ff" stroke-width="1.0"/><circle cx="122.94" cy="349.24" r="4.1" fill="#fff" stroke="#0000ff" stroke-width="1.0"/><circle cx="123.99" cy="348.78" r="4.1" fill="#fff" stroke="#0000ff" stroke-width="1.0"/><circle cx="125.04" cy="348.32" r="4.1" fill="#fff" stroke="#0000ff" stroke-width="1.0"/><circle cx="126.09" cy="347.87" r="4.1" fill="#fff" stroke="#0000ff" stroke-width="1.0"/><circle cx="127.14" cy="347.41" r="4.1" fill="#fff" stroke="#0000ff" stroke-width="1.0"/><circle cx="128.19" cy="346.96" r="4.1" fill="#fff" stroke="#0000ff" stroke-width="1.0"/><circle cx="129.24" cy="346.51" r="4.1" fill="#fff" stroke="#0000ff" stroke-width="1.0"/><circle cx="130.29" cy="346.07" r="4.1" fill="#fff" stroke="#0000ff" stroke-width="1.0"/><circle cx="131.34" cy="345.62" r="4.1" fill="#fff" stroke="#0000ff" stroke-width="1.0"/><circle cx="132.39" cy="345.18" r="4.1" fill="#fff" stroke="#0000ff" stroke-width="1.0"/><circle cx="133.44" cy="344.74" r="4.1" fill="#fff" stroke="#0000ff" stroke-width="1.0"/><circle cx="134.49" cy="344.31" r="4.1" fill="#fff" stroke="#0000ff" stroke-width="1.0"/><circle cx="135.54" cy="343.88" r="4.1" fill="#fff" stroke="#0000ff" stroke-width="1.0"/><circle cx="136.59" cy="343.46" r="4.1" fill="#fff" stroke="#0000ff" stroke-width="1.0"/><circle cx="137.64" cy="343.05" r="4.1" fill="#fff" stroke="#0000ff" stroke-width="1.0"/><circle cx="138.69" cy="342.65" r="4.1" fill="#fff" stroke="#0000ff" stroke-width="1.0"/><circle cx="139.74" cy="342.26" r="4.1" fill="#fff" stroke="#0000ff" stroke-width="1.0"/><circle cx="140.79" cy="341.87" r="4.1" fill="#fff" stroke="#0000ff" stroke-width="1.0"/><circle cx="141.84" cy="341.49" r="4.1" fill="#fff" stroke="#0000ff" stroke-width="1.0"/><circle cx="142.89" cy="341.11" r="4.1" fill="#fff" stroke="#0000ff" stroke-width="1.0"/><circle cx="143.94" cy="340.73" r="4.1" fill="#fff" stroke="#0000ff" stroke-width="1.0"/><circle cx="144.99" cy="340.34" r="4.1" fill="#fff" stroke="#0000ff" stroke-width="1.0"/><circle cx="146.04" cy="339.96" r="4.1" fill="#fff" stroke="#0000ff" stroke-width="1.0"/><circle cx="147.09" cy="339.57" r="4.1" fill="#fff" stroke="#0000ff" stroke-width="1.0"/><circle cx="148.14" cy="339.17" r="4.1" fill="#fff" stroke="#0000ff" stroke-width="1.0"/><circle cx="149.19" cy="338.77" r="4.1" fill="#fff" stroke="#0000ff" stroke-width="1.0"/><circle cx="150.24" cy="338.35" r="4.1" fill="#fff" stroke="#0000ff" stroke-width="1.0"/><circle cx="151.29" cy="337.93" r="4.1" fill="#fff" stroke="#0000ff" stroke-width="1.0"/><circle cx="152.34" cy="337.49" r="4.1" fill="#fff" stroke="#0000ff" stroke-width="1.0"/><circle cx="153.39" cy="337.03" r="4.1" fill="#fff" stroke="#0000ff" stroke-width="1.0"/><circle cx="154.44" cy="336.56" r="4.1" fill="#fff" stroke="#0000ff" stroke-width="1.0"/><circle cx="160.9" cy="333.1" r="4.1" fill="#fff" stroke="#0000ff" stroke-width="1.0"/><circle cx="167.76" cy="329.84" r="4.1" fill="#fff" stroke="#0000ff" stroke-width="1.0"/><circle cx="174.62" cy="326.69" r="4.1" fill="#fff" stroke="#0000ff" stroke-width="1.0"/><circle cx="181.48" cy="323.63" r="4.1" fill="#fff" stroke="#0000ff" stroke-width="1.0"/><circle cx="188.34" cy="320.66" r="4.1" fill="#fff" stroke="#0000ff" stroke-width="1.0"/><circle cx="195.19" cy="317.78" r="4.1" fill="#fff" stroke="#0000ff" stroke-width="1.0"/><circle cx="202.05" cy="314.96" r="4.1" fill="#fff" stroke="#0000ff" stroke-width="1.0"/><circle cx="208.91" cy="312.21" r="4.1" fill="#fff" stroke="#0000ff" stroke-width="1.0"/><circle cx="215.77" cy="309.51" r="4.1" fill="#fff" stroke="#0000ff" stroke-width="1.0"/><circle cx="222.63" cy="306.85" r="4.1" fill="#fff" stroke="#0000ff" stroke-width="1.0"/><circle cx="229.49" cy="304.23" r="4.1" fill="#fff" stroke="#0000ff" stroke-width="1.0"/><circle cx="236.35" cy="301.63" r="4.1" fill="#fff" stroke="#0000ff" stroke-width="1.0"/><circle cx="243.21" cy="299.06" r="4.1" fill="#fff" stroke="#0000ff" stroke-width="1.0"/><circle cx="250.06" cy="296.48" r="4.1" fill="#fff" stroke="#0000ff" stroke-width="1.0"/><circle cx="256.92" cy="293.91" r="4.1" fill="#fff" stroke="#0000ff" stroke-width="1.0"/><circle cx="263.78" cy="291.32" r="4.1" fill="#fff" stroke="#0000ff" stroke-width="1.0"/><circle cx="270.64" cy="288.72" r="4.1" fill="#fff" stroke="#0000ff" stroke-width="1.0"/><circle cx="277.5" cy="286.08" r="4.1" fill="#fff" stroke="#0000ff" stroke-width="1.0"/><circle cx="284.36" cy="283.41" r="4.1" fill="#fff" stroke="#0000ff" stroke-width="1.0"/><circle cx="291.22" cy="280.69" r="4.1" fill="#fff" stroke="#0000ff" stroke-width="1.0"/><circle cx="298.08" cy="277.94" r="4.1" fill="#fff" stroke="#0000ff" stroke-width="1.0"/><circle cx="304.94" cy="275.17" r="4.1" fill="#fff" stroke="#0000ff" stroke-width="1.0"/><circle cx="311.79" cy="272.4" r="4.1" fill="#fff" stroke="#0000ff" stroke-width="1.0"/><circle cx="318.65" cy="269.64" r="4.1" fill="#fff" stroke="#0000ff" stroke-width="1.0"/><circle cx="325.51" cy="266.88" r="4.1" fill="#fff" stroke="#0000ff" stroke-width="1.0"/><circle cx="332.37" cy="264.14" r="4.1" fill="#fff" stroke="#0000ff" stroke-width="1.0"/><circle cx="339.23" cy="261.42" r="4.1" fill="#fff" stroke="#0000ff" stroke-width="1.0"/><circle cx="346.09" cy="258.74" r="4.1" fill="#fff" stroke="#0000ff" stroke-width="1.0"/><circle cx="352.95" cy="256.08" r="4.1" fill="#fff" stroke="#0000ff" stroke-width="1.0"/><circle cx="359.81" cy="253.45" r="4.1" fill="#fff" stroke="#0000ff" stroke-width="1.0"/><circle cx="366.66" cy="250.84" r="4.1" fill="#fff" stroke="#0000ff" stroke-width="1.0"/><circle cx="373.52" cy="248.25" r="4.1" fill="#fff" stroke="#0000ff" stroke-width="1.0"/><circle cx="380.38" cy="245.68" r="4.1" fill="#fff" stroke="#0000ff" stroke-width="1.0"/><circle cx="387.24" cy="243.11" r="4.1" fill="#fff" stroke="#0000ff" stroke-width="1.0"/><circle cx="394.1" cy="240.55" r="4.1" fill="#fff" stroke="#0000ff" stroke-width="1.0"/><circle cx="400.96" cy="237.99" r="4.1" fill="#fff" stroke="#0000ff" stroke-width="1.0"/><circle cx="407.82" cy="235.43" r="4.1" fill="#fff" stroke="#0000ff" stroke-width="1.0"/><circle cx="414.68" cy="232.86" r="4.1" fill="#fff" stroke="#0000ff" stroke-width="1.0"/><circle cx="421.54" cy="230.29" r="4.1" fill="#fff" stroke="#0000ff" stroke-width="1.0"/><circle cx="428.39" cy="227.71" r="4.1" fill="#fff" stroke="#0000ff" stroke-width="1.0"/><circle cx="435.25" cy="225.13" r="4.1" fill="#fff" stroke="#0000ff" stroke-width="1.0"/><circle cx="442.11" cy="222.55" r="4.1" fill="#fff" stroke="#0000ff" stroke-width="1.0"/><circle cx="448.97" cy="219.97" r="4.1" fill="#fff" stroke="#0000ff" stroke-width="1.0"/><circle cx="455.83" cy="217.39" r="4.1" fill="#fff" stroke="#0000ff" stroke-width="1.0"/><circle cx="462.69" cy="214.81" r="4.1" fill="#fff" stroke="#0000ff" stroke-width="1.0"/><circle cx="469.55" cy="212.23" r="4.1" fill="#fff" stroke="#0000ff" stroke-width="1.0"/><circle cx="476.41" cy="209.66" r="4.1" fill="#fff" stroke="#0000ff" stroke-width="1.0"/><circle cx="483.26" cy="207.08" r="4.1" fill="#fff" stroke="#0000ff" stroke-width="1.0"/><circle cx="490.12" cy="204.51" r="4.1" fill="#fff" stroke="#0000ff" stroke-width="1.0"/><circle cx="496.98" cy="201.93" r="4.1" fill="#fff" stroke="#0000ff" stroke-width="1.0"/><circle cx="503.84" cy="199.36" r="4.1" fill="#fff" stroke="#0000ff" stroke-width="1.0"/><circle cx="510.7" cy="196.79" r="4.1" fill="#fff" stroke="#0000ff" stroke-width="1.0"/><path d="M66.24 371.34L70.94 379.44L61.54 379.44Z" fill="#fff" stroke="#008000" stroke-width="1.0"/><path d="M68.34 371.14L73.04 379.24L63.64 379.24Z" fill="#fff" stroke="#008000" stroke-width="1.0"/><path d="M70.44 370.84L75.14 378.94L65.74 378.94Z" fill="#fff" stroke="#008000" stroke-width="1.0"/><path d="M72.54 370.43L77.24 378.53L67.84 378.53Z" fill="#fff" stroke="#008000" stroke-width="1.0"/><path d="M74.64 369.71L79.34 377.81L69.94 377.81Z" fill="#fff" stroke="#008000" stroke-width="1.0"/><path d="M76.74 368.75L81.44 376.85L72.04 376.85Z" fill="#fff" stroke="#008000" stroke-width="1.0"/><path d="M78.84 367.7L83.54 375.8L74.14 375.8Z" fill="#fff" stroke="#008000" stroke-width="1.0"/><path d="M80.5 366.92L85.2 375.02L75.8 375.02Z" fill="#fff" stroke="#008000" stroke-width="1.0"/><path d="M81.55 366.43L86.25 374.53L76.85 374.53Z" fill="#fff" stroke="#008000" stroke-width="1.0"/><path d="M82.6 365.92L87.3 374.02L77.9 374.02Z" fill="#fff" stroke="#008000" stroke-width="1.0"/><path d="M83.65 365.41L88.35 373.51L78.95 373.51Z" fill="#fff" stroke="#008000" stroke-width="1.0"/><path d="M84.7 364.89L89.4 372.99L80 372.99Z" fill="#fff" stroke="#008000" stroke-width="1.0"/><path d="M85.75 364.36L90.45 372.46L81.05 372.46Z" fill="#fff" stroke="#008000" stroke-width="1.0"/><path d="M86.8 363.84L91.5 371.94L82.1 371.94Z" fill="#fff" stroke="#008000" stroke-width="1.0"/><path d="M87.85 363.31L92.55 371.41L83.15 371.41Z" fill="#fff" stroke="#008000" stroke-width="1.0"/><path d="M88.9 362.79L93.6 370.89L84.2 370.89Z" fill="#fff" stroke="#008000" stroke-width="1.0"/><path d="M89.95 362.27L94.65 370.37L85.25 370.37Z" fill="#fff" stroke="#008000" stroke-width="1.0"/><path d="M91 361.76L95.7 369.86L86.3 369.86Z" fill="#fff" stroke="#008000" stroke-width="1.0"/><path d="M92.05 361.25L96.75 369.35L87.35 369.35Z" fill="#fff" stroke="#008000" stroke-width="1.0"/><path d="M93.1 360.74L97.8 368.84L88.4 368.84Z" fill="#fff" stroke="#008000" stroke-width="1.0"/><path d="M94.15 360.22L98.85 368.32L89.45 368.32Z" fill="#fff" stroke="#008000" stroke-width="1.0"/><path d="M95.2 359.71L99.9 367.81L90.5 367.81Z" fill="#fff" stroke="#008000" stroke-width="1.0"/><path d="M96.25 359.21L100.95 367.31L91.55 367.31Z" fill="#fff" stroke="#008000" stroke-width="1.0"/><path d="M97.3 358.71L102 366.81L92.6 366.81Z" fill="#fff" stroke="#008000" stroke-width="1.0"/><path d="M98.35 358.21L103.05 366.31L93.65 366.31Z" fill="#fff" stroke="#008000" stroke-width="1.0"/><path d="M99.4 357.72L104.1 365.82L94.7 365.82Z" fill="#fff" stroke="#008000" stroke-width="1.0"/><path d="M100.45 357.25L105.15 365.35L95.75 365.35Z" fill="#fff" stroke="#008000" stroke-width="1.0"/><path d="M101.5 356.78L106.2 364.88L96.8 364.88Z" fill="#fff" stroke="#008000" stroke-width="1.0"/><path d="M102.55 356.31L107.25 364.41L97.85 364.41Z" fill="#fff" stroke="#008000" stroke-width="1.0"/><path d="M103.6 355.86L108.3 363.96L98.9 363.96Z" fill="#fff" stroke="#008000" stroke-width="1.0"/><path d="M104.65 355.4L109.35 363.5L99.95 363.5Z" fill="#fff" stroke="#008000" stroke-width="1.0"/><path d="M105.7 354.96L110.4 363.06L101 363.06Z" fill="#fff" stroke="#008000" stroke-width="1.0"/><path d="M106.75 354.51L111.45 362.61L102.05 362.61Z" fill="#fff" stroke="#008000" stroke-width="1.0"/><path d="M107.8 354.07L112.5 362.17L103.1 362.17Z" fill="#fff" stroke="#008000" stroke-width="1.0"/><path d="M108.85 353.63L113.55 361.73L104.15 361.73Z" fill="#fff" stroke="#008000" stroke-width="1.0"/><path d="M109.9 353.2L114.6 361.3L105.2 361.3Z" fill="#fff" stroke="#008000" stroke-width="1.0"/><path d="M110.95 352.76L115.65 360.86L106.25 360.86Z" fill="#fff" stroke="#008000" stroke-width="1.0"/><path d="M112 352.33L116.7 360.43L107.3 360.43Z" fill="#fff" stroke="#008000" stroke-width="1.0"/><path d="M113.05 351.89L117.75 359.99L108.35 359.99Z" fill="#fff" stroke="#008000" stroke-width="1.0"/><path d="M114.1 351.45L118.8 359.55L109.4 359.55Z" fill="#fff" stroke="#008000" stroke-width="1.0"/><path d="M115.15 351.02L119.85 359.12L110.45 359.12Z" fill="#fff" stroke="#008000" stroke-width="1.0"/><path d="M116.2 350.58L120.9 358.68L111.5 358.68Z" fill="#fff" stroke="#008000" stroke-width="1.0"/><path d="M117.25 350.13L121.95 358.23L112.55 358.23Z" fill="#fff" stroke="#008000" stroke-width="1.0"/><path d="M118.3 349.68L123 357.78L113.6 357.78Z" fill="#fff" stroke="#008000" stroke-width="1.0"/><path d="M119.35 349.23L124.05 357.33L114.65 357.33Z" fill="#fff" stroke="#008000" stroke-width="1.0"/><path d="M120.4 348.77L125.1 356.87L115.7 356.87Z" fill="#fff" stroke="#008000" stroke-width="1.0"/><path d="M121.45 348.31L126.15 356.41L116.75 356.41Z" fill="#fff" stroke="#008000" stroke-width="1.0"/><path d="M122.5 347.83L127.2 355.93L117.8 355.93Z" fill="#fff" stroke="#008000" stroke-width="1.0"/><path d="M123.55 347.35L128.25 355.45L118.85 355.45Z" fill="#fff" stroke="#008000" stroke-width="1.0"/><path d="M124.6 346.86L129.3 354.96L119.9 354.96Z" fill="#fff" stroke="#008000" stroke-width="1.0"/><path d="M125.65 346.37L130.35 354.47L120.95 354.47Z" fill="#fff" stroke="#008000" stroke-width="1.0"/><path d="M126.7 345.88L131.4 353.98L122 353.98Z" fill="#fff" stroke="#008000" stroke-width="1.0"/><path d="M127.75 345.39L132.45 353.49L123.05 353.49Z" fill="#fff" stroke="#008000" stroke-width="1.0"/><path d="M128.8 344.9L133.5 353L124.1 353Z" fill="#fff" stroke="#008000" stroke-width="1.0"/><path d="M129.85 344.43L134.55 352.53L125.15 352.53Z" fill="#fff" stroke="#008000" stroke-width="1.0"/><path d="M130.9 343.96L135.6 352.06L126.2 352.06Z" fill="#fff" stroke="#008000" stroke-width="1.0"/><path d="M131.95 343.5L136.65 351.6L127.25 351.6Z" fill="#fff" stroke="#008000" stroke-width="1.0"/><path d="M133 343.05L137.7 351.15L128.3 351.15Z" fill="#fff" stroke="#008000" stroke-width="1.0"/><path d="M134.05 342.62L138.75 350.72L129.35 350.72Z" fill="#fff" stroke="#008000" stroke-width="1.0"/><path d="M135.1 342.21L139.8 350.31L130.4 350.31Z" fill="#fff" stroke="#008000" stroke-width="1.0"/><path d="M136.15 341.81L140.85 349.91L131.45 349.91Z" fill="#fff" stroke="#008000" stroke-width="1.0"/><path d="M137.2 341.43L141.9 349.53L132.5 349.53Z" fill="#fff" stroke="#008000" stroke-width="1.0"/><path d="M138.25 341.05L142.95 349.15L133.55 349.15Z" fill="#fff" stroke="#008000" stroke-width="1.0"/><path d="M139.3 340.69L144 348.79L134.6 348.79Z" fill="#fff" stroke="#008000" stroke-width="1.0"/><path d="M140.35 340.33L145.05 348.43L135.65 348.43Z" fill="#fff" stroke="#008000" stroke-width="1.0"/><path d="M141.4 339.98L146.1 348.08L136.7 348.08Z" fill="#fff" stroke="#008000" stroke-width="1.0"/><path d="M142.45 339.63L147.15 347.73L137.75 347.73Z" fill="#fff" stroke="#008000" stroke-width="1.0"/><path d="M143.5 339.29L148.2 347.39L138.8 347.39Z" fill="#fff" stroke="#008000" stroke-width="1.0"/><path d="M144.55 338.95L149.25 347.05L139.85 347.05Z" fill="#fff" stroke="#008000" stroke-width="1.0"/><path d="M145.6 338.62L150.3 346.72L140.9 346.72Z" fill="#fff" stroke="#008000" stroke-width="1.0"/><path d="M146.65 338.29L151.35 346.39L141.95 346.39Z" fill="#fff" stroke="#008000" stroke-width="1.0"/><path d="M147.7 337.95L152.4 346.05L143 346.05Z" fill="#fff" stroke="#008000" stroke-width="1.0"/><path d="M148.75 337.62L153.45 345.72L144.05 345.72Z" fill="#fff" stroke="#008000" stroke-width="1.0"/><path d="M149.8 337.28L154.5 345.38L145.1 345.38Z" fill="#fff" stroke="#008000" stroke-width="1.0"/><path d="M150.85 336.94L155.55 345.04L146.15 345.04Z" fill="#fff" stroke="#008000" stroke-width="1.0"/><path d="M153.32 336.12L158.02 344.22L148.62 344.22Z" fill="#fff" stroke="#008000" stroke-width="1.0"/><path d="M154.6 335.68L159.3 343.78L149.9 343.78Z" fill="#fff" stroke="#008000" stroke-width="1.0"/><path d="M161.84 333.14L166.54 341.24L157.14 341.24Z" fill="#fff" stroke="#008000" stroke-width="1.0"/><path d="M169.07 330.56L173.77 338.66L164.37 338.66Z" fill="#fff" stroke="#008000" stroke-width="1.0"/><path d="M176.31 327.93L181.01 336.03L171.61 336.03Z" fill="#fff" stroke="#008000" stroke-width="1.0"/><path d="M183.55 325.27L188.25 333.37L178.85 333.37Z" fill="#fff" stroke="#008000" stroke-width="1.0"/><path d="M190.78 322.58L195.48 330.68L186.08 330.68Z" fill="#fff" stroke="#008000" stroke-width="1.0"/><path d="M198.02 319.86L202.72 327.96L193.32 327.96Z" fill="#fff" stroke="#008000" stroke-width="1.0"/><path d="M205.26 317.13L209.96 325.23L200.56 325.23Z" fill="#fff" stroke="#008000" stroke-width="1.0"/><path d="M212.49 314.38L217.19 322.48L207.79 322.48Z" fill="#fff" stroke="#008000" stroke-width="1.0"/><path d="M219.73 311.62L224.43 319.72L215.03 319.72Z" fill="#fff" stroke="#008000" stroke-width="1.0"/><path d="M226.97 308.85L231.67 316.95L222.27 316.95Z" fill="#fff" stroke="#008000" stroke-width="1.0"/><path d="M234.2 306.08L238.9 314.18L229.5 314.18Z" fill="#fff" stroke="#008000" stroke-width="1.0"/><path d="M241.44 303.32L246.14 311.42L236.74 311.42Z" fill="#fff" stroke="#008000" stroke-width="1.0"/><path d="M248.68 300.56L253.38 308.66L243.98 308.66Z" fill="#fff" stroke="#008000" stroke-width="1.0"/><path d="M255.91 297.82L260.61 305.92L251.21 305.92Z" fill="#fff" stroke="#008000" stroke-width="1.0"/><path d="M263.15 295.09L267.85 303.19L258.45 303.19Z" fill="#fff" stroke="#008000" stroke-width="1.0"/><path d="M270.39 292.39L275.09 300.49L265.69 300.49Z" fill="#fff" stroke="#008000" stroke-width="1.0"/><path d="M277.62 289.72L282.32 297.82L272.92 297.82Z" fill="#fff" stroke="#008000" stroke-width="1.0"/><path d="M284.86 287.08L289.56 295.18L280.16 295.18Z" fill="#fff" stroke="#008000" stroke-width="1.0"/><path d="M292.1 284.47L296.8 292.57L287.4 292.57Z" fill="#fff" stroke="#008000" stroke-width="1.0"/><path d="M299.33 281.89L304.03 289.99L294.63 289.99Z" fill="#fff" stroke="#008000" stroke-width="1.0"/><path d="M306.57 279.32L311.27 287.42L301.87 287.42Z" fill="#fff" stroke="#008000" stroke-width="1.0"/><path d="M313.81 276.76L318.51 284.86L309.11 284.86Z" fill="#fff" stroke="#008000" stroke-width="1.0"/><path d="M321.04 274.2L325.74 282.3L316.34 282.3Z" fill="#fff" stroke="#008000" stroke-width="1.0"/><path d="M328.28 271.65L332.98 279.75L323.58 279.75Z" fill="#fff" stroke="#008000" stroke-width="1.0"/><path d="M335.52 269.11L340.22 277.21L330.82 277.21Z" fill="#fff" stroke="#008000" stroke-width="1.0"/><path d="M342.76 266.58L347.46 274.68L338.06 274.68Z" fill="#fff" stroke="#008000" stroke-width="1.0"/><path d="M349.99 264.05L354.69 272.15L345.29 272.15Z" fill="#fff" stroke="#008000" stroke-width="1.0"/><path d="M357.23 261.53L361.93 269.63L352.53 269.63Z" fill="#fff" stroke="#008000" stroke-width="1.0"/><path d="M364.47 259.02L369.17 267.12L359.77 267.12Z" fill="#fff" stroke="#008000" stroke-width="1.0"/><path d="M371.7 256.51L376.4 264.61L367 264.61Z" fill="#fff" stroke="#008000" stroke-width="1.0"/><path d="M378.94 254.01L383.64 262.11L374.24 262.11Z" fill="#fff" stroke="#008000" stroke-width="1.0"/><path d="M386.18 251.52L390.88 259.62L381.48 259.62Z" fill="#fff" stroke="#008000" stroke-width="1.0"/><path d="M393.41 249.04L398.11 257.14L388.71 257.14Z" fill="#fff" stroke="#008000" stroke-width="1.0"/><path d="M400.65 246.57L405.35 254.67L395.95 254.67Z" fill="#fff" stroke="#008000" stroke-width="1.0"/><path d="M407.89 244.11L412.59 252.21L403.19 252.21Z" fill="#fff" stroke="#008000" stroke-width="1.0"/><path d="M415.12 241.65L419.82 249.75L410.42 249.75Z" fill="#fff" stroke="#008000" stroke-width="1.0"/><path d="M422.36 239.21L427.06 247.31L417.66 247.31Z" fill="#fff" stroke="#008000" stroke-width="1.0"/><path d="M429.6 236.77L434.3 244.87L424.9 244.87Z" fill="#fff" stroke="#008000" stroke-width="1.0"/><path d="M436.83 234.34L441.53 242.44L432.13 242.44Z" fill="#fff" stroke="#008000" stroke-width="1.0"/><path d="M444.07 231.92L448.77 240.02L439.37 240.02Z" fill="#fff" stroke="#008000" stroke-width="1.0"/><path d="M451.31 229.51L456.01 237.61L446.61 237.61Z" fill="#fff" stroke="#008000" stroke-width="1.0"/><path d="M458.54 227.11L463.24 235.21L453.84 235.21Z" fill="#fff" stroke="#008000" stroke-width="1.0"/><path d="M465.78 224.73L470.48 232.83L461.08 232.83Z" fill="#fff" stroke="#008000" stroke-width="1.0"/><path d="M473.02 222.35L477.72 230.45L468.32 230.45Z" fill="#fff" stroke="#008000" stroke-width="1.0"/><path d="M480.25 219.98L484.95 228.08L475.55 228.08Z" fill="#fff" stroke="#008000" stroke-width="1.0"/><path d="M487.49 217.62L492.19 225.72L482.79 225.72Z" fill="#fff" stroke="#008000" stroke-width="1.0"/><path d="M494.73 215.27L499.43 223.37L490.03 223.37Z" fill="#fff" stroke="#008000" stroke-width="1.0"/><path d="M501.96 212.93L506.66 221.03L497.26 221.03Z" fill="#fff" stroke="#008000" stroke-width="1.0"/><path d="M509.2 210.6L513.9 218.7L504.5 218.7Z" fill="#fff" stroke="#008000" stroke-width="1.0"/></g>
<path d="M70.8 339 Q75 335.8 80.1 330.5 L81.4 331.6 Q77.4 335.8 76.4 338.3 L99.2 338.3 L99.2 339.7 L76.4 339.7 Q77.4 342.2 81.4 346.4 L80.1 347.5 Q75 342.2 70.8 339 Z" fill="#000"/>
<path d="M512.9 339 Q508.7 335.8 503.6 330.5 L502.3 331.6 Q506.3 335.8 507.3 338.3 L484 338.3 L484 339.7 L507.3 339.7 Q506.3 342.2 502.3 346.4 L503.6 347.5 Q508.7 342.2 512.9 339 Z" fill="#ff0000"/>
<g stroke="#000" stroke-width="2" fill="none" stroke-linecap="butt">
<path d="M515.05 1.8L63.2 1.8L63.2 382.5"/>
<path d="M62.2 381.5L511.55 381.5"/>
<line x1="108.78" y1="381.5" x2="108.78" y2="377.5"/><line x1="108.78" y1="1.8" x2="108.78" y2="5.8"/><line x1="154.37" y1="381.5" x2="154.37" y2="374"/><line x1="154.37" y1="1.8" x2="154.37" y2="9.3"/><line x1="199.95" y1="381.5" x2="199.95" y2="377.5"/><line x1="199.95" y1="1.8" x2="199.95" y2="5.8"/><line x1="245.54" y1="381.5" x2="245.54" y2="374"/><line x1="245.54" y1="1.8" x2="245.54" y2="9.3"/><line x1="291.12" y1="381.5" x2="291.12" y2="377.5"/><line x1="291.12" y1="1.8" x2="291.12" y2="5.8"/><line x1="336.71" y1="381.5" x2="336.71" y2="374"/><line x1="336.71" y1="1.8" x2="336.71" y2="9.3"/><line x1="382.3" y1="381.5" x2="382.3" y2="377.5"/><line x1="382.3" y1="1.8" x2="382.3" y2="5.8"/><line x1="427.88" y1="381.5" x2="427.88" y2="374"/><line x1="427.88" y1="1.8" x2="427.88" y2="9.3"/><line x1="473.46" y1="381.5" x2="473.46" y2="377.5"/><line x1="473.46" y1="1.8" x2="473.46" y2="5.8"/><line x1="63.2" y1="339.31" x2="67.2" y2="339.31"/><line x1="63.2" y1="297.12" x2="70.7" y2="297.12"/><line x1="63.2" y1="254.93" x2="67.2" y2="254.93"/><line x1="63.2" y1="212.74" x2="70.7" y2="212.74"/><line x1="63.2" y1="170.56" x2="67.2" y2="170.56"/><line x1="63.2" y1="128.37" x2="70.7" y2="128.37"/><line x1="63.2" y1="86.18" x2="67.2" y2="86.18"/><line x1="63.2" y1="43.99" x2="70.7" y2="43.99"/><line x1="63.2" y1="1.8" x2="67.2" y2="1.8"/>
</g>
<g stroke="#ff0000" stroke-width="2" fill="none">
<path d="M515.05 1.8L519.05 1.8L519.05 381.5L511.55 381.5"/>
<line x1="519.05" y1="381.5" x2="511.55" y2="381.5"/><line x1="519.05" y1="339.31" x2="515.05" y2="339.31"/><line x1="519.05" y1="297.12" x2="511.55" y2="297.12"/><line x1="519.05" y1="254.93" x2="515.05" y2="254.93"/><line x1="519.05" y1="212.74" x2="511.55" y2="212.74"/><line x1="519.05" y1="170.56" x2="515.05" y2="170.56"/><line x1="519.05" y1="128.37" x2="511.55" y2="128.37"/><line x1="519.05" y1="86.18" x2="515.05" y2="86.18"/><line x1="519.05" y1="43.99" x2="511.55" y2="43.99"/><line x1="519.05" y1="1.8" x2="515.05" y2="1.8"/>
</g>
<g font-family="Liberation Serif" font-weight="bold" font-size="16" fill="#000"><text x="63.2" y="402.4" text-anchor="middle">0</text><text x="154.37" y="402.4" text-anchor="middle">60</text><text x="245.54" y="402.4" text-anchor="middle">120</text><text x="336.71" y="402.4" text-anchor="middle">180</text><text x="427.88" y="402.4" text-anchor="middle">240</text><text x="519.05" y="402.4" text-anchor="middle">300</text><text x="55.6" y="386.5" text-anchor="end">0</text><text x="55.6" y="302.12" text-anchor="end">14</text><text x="55.6" y="217.74" text-anchor="end">28</text><text x="55.6" y="133.37" text-anchor="end">42</text><text x="55.6" y="48.99" text-anchor="end">56</text></g>
<g font-family="Liberation Serif" font-weight="bold" font-size="16" fill="#ff0000"><text x="527" y="386.5">0</text><text x="527" y="302.12">5</text><text x="527" y="217.74">10</text><text x="527" y="133.37">15</text><text x="527" y="48.99">20</text></g>
<g font-family="Liberation Serif" font-weight="bold" fill="#000"><text x="161.6" y="56.7" font-size="15.6">Gd<tspan font-size="9.6" dy="6">2</tspan><tspan dy="-6">NiTiO</tspan><tspan font-size="9.6" dy="6">6</tspan></text><line x1="239.2" y1="53.3" x2="278.5" y2="53.3" stroke="#800000" stroke-width="1.1"/><line x1="306" y1="53.3" x2="345" y2="53.3" stroke="#800000" stroke-width="1.1"/><rect x="254.3" y="48.8" width="9" height="9" fill="#800000" stroke="#800000" stroke-width="1"/><rect x="320.55" y="48.65" width="9.3" height="9.3" fill="#fff" stroke="#800000" stroke-width="1.15"/><text x="282.3" y="59.6" font-size="18.2" font-style="italic">M</text><text x="349.4" y="58.3" font-size="17">1<tspan font-style="italic">/</tspan></text><path d="M364.3 52.69 Q364.98 50.99 366 51.33 Q367.02 51.84 367.87 56.26 L368.89 60.17 Q369.57 61.19 370.59 60.34" fill="none" stroke="#000" stroke-width="1.5" stroke-linecap="round"/><path d="M371.61 50.82 L363.11 61.19" fill="none" stroke="#000" stroke-width="0.99" stroke-linecap="round"/><text x="161.6" y="78.6" font-size="15.6">Tb<tspan font-size="9.6" dy="6">2</tspan><tspan dy="-6">NiTiO</tspan><tspan font-size="9.6" dy="6">6</tspan></text><line x1="239.2" y1="74.8" x2="278.5" y2="74.8" stroke="#0000ff" stroke-width="1.1"/><line x1="306" y1="74.8" x2="345" y2="74.8" stroke="#0000ff" stroke-width="1.1"/><circle cx="258.8" cy="74.8" r="4.8" fill="#0000ff" stroke="#0000ff" stroke-width="1"/><circle cx="325.4" cy="74.8" r="5.65" fill="#fff" stroke="#0000ff" stroke-width="1.15"/><text x="282.3" y="81.5" font-size="18.2" font-style="italic">M</text><text x="349.4" y="80.2" font-size="17">1<tspan font-style="italic">/</tspan></text><path d="M364.3 74.59 Q364.98 72.89 366 73.23 Q367.02 73.74 367.87 78.16 L368.89 82.07 Q369.57 83.09 370.59 82.24" fill="none" stroke="#000" stroke-width="1.5" stroke-linecap="round"/><path d="M371.61 72.72 L363.11 83.09" fill="none" stroke="#000" stroke-width="0.99" stroke-linecap="round"/><text x="161.6" y="101.3" font-size="15.6">Ho<tspan font-size="9.6" dy="6">2</tspan><tspan dy="-6">NiTiO</tspan><tspan font-size="9.6" dy="6">6</tspan></text><line x1="239.2" y1="96.3" x2="278.5" y2="96.3" stroke="#008000" stroke-width="1.1"/><line x1="306" y1="96.3" x2="345" y2="96.3" stroke="#008000" stroke-width="1.1"/><path d="M258.8 89.3L265.3 100.3L252.3 100.3Z" fill="#008000" stroke="#008000" stroke-width="1"/><path d="M325.5 89.2L331.9 100.2L319.1 100.2Z" fill="#fff" stroke="#008000" stroke-width="1.15"/><text x="282.3" y="104.2" font-size="18.2" font-style="italic">M</text><text x="349.4" y="102.9" font-size="17">1<tspan font-style="italic">/</tspan></text><path d="M364.3 97.29 Q364.98 95.59 366 95.93 Q367.02 96.44 367.87 100.86 L368.89 104.77 Q369.57 105.79 370.59 104.94" fill="none" stroke="#000" stroke-width="1.5" stroke-linecap="round"/><path d="M371.61 95.42 L363.11 105.79" fill="none" stroke="#000" stroke-width="0.99" stroke-linecap="round"/></g>
<text x="291.5" y="429.6" text-anchor="middle" font-family="Liberation Serif" font-weight="bold" font-size="21"><tspan font-style="italic">T</tspan> (K)</text>
<text transform="translate(17.3 205.4) rotate(-90)" text-anchor="middle" font-family="Liberation Serif" font-weight="bold" font-size="21"><tspan font-style="italic">M</tspan> (emu/g)</text>
<g transform="translate(568.3 284.2) rotate(-90)" fill="#ff0000" font-family="Liberation Serif" font-weight="bold" font-size="21"><text x="-0.8" y="0">1<tspan font-style="italic">/</tspan></text><path d="M18.3 -6.93 Q19.14 -9.03 20.4 -8.61 Q21.66 -7.98 22.71 -2.52 L23.97 2.31 Q24.81 3.57 26.07 2.52" fill="none" stroke="#ff0000" stroke-width="1.85" stroke-linecap="round"/><path d="M27.33 -9.24 L16.83 3.57" fill="none" stroke="#ff0000" stroke-width="1.22" stroke-linecap="round"/><text x="27" y="0" xml:space="preserve"> (Oe mol/emu)</text></g>
</svg>
</body></html>
